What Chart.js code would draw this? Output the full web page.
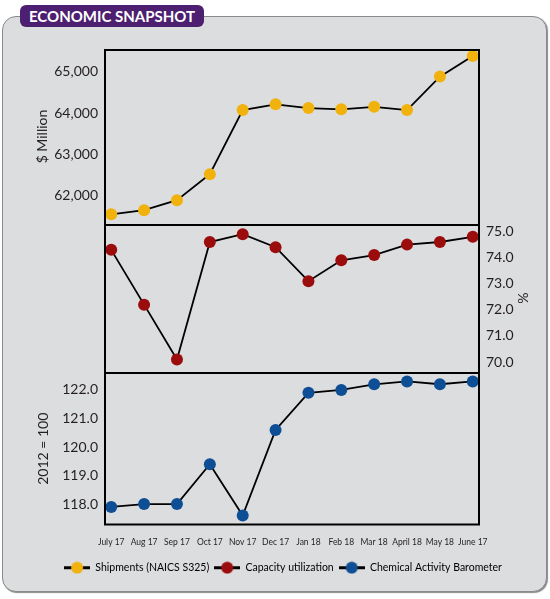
<!DOCTYPE html>
<html lang="en">
<head>
<meta charset="UTF-8">
<title>Economic Snapshot</title>
<script src="https://cdn.jsdelivr.net/npm/chart.js"></script>
<style>
    body { margin: 0; background: #fff; }
    .wrap { position: relative; width: 550px; height: 599px; overflow: hidden; }
    .panel {
        position: absolute; left: 2px; top: 16px; width: 543px; height: 574px;
        background: #dcdddf; border: 1.5px solid #8a8a8a; border-radius: 14px;
        box-shadow: 1px 1px 1px #8a8a8a;
    }
    .tab {
        position: absolute; left: 20px; top: 5px; width: 184px; height: 22px;
        background: #4c1f70; border-radius: 6px; color: #fff;
        font: 700 15px Lato, sans-serif; line-height: 22px; text-align: center;
    }
    canvas { position: absolute; left: 0; }
</style>
</head>
<body>
<div class="wrap">
    <div class="panel"></div>
    <div class="tab">ECONOMIC SNAPSHOT</div>
    <canvas id="shipChart" width="550" height="175" style="top:49px"></canvas>
    <canvas id="capChart" width="550" height="148" style="top:224px"></canvas>
    <canvas id="cabChart" width="550" height="211" style="top:372px"></canvas>
</div>

<script>
// x axis labels (as printed on the original)
const months = ['July 17', 'Aug 17', 'Sep 17', 'Oct 17', 'Nov 17', 'Dec 17',
                'Jan 18', 'Feb 18', 'Mar 18', 'April 18', 'May 18', 'June 17'];

// series values
const shipments = [61550, 61650, 61890, 62520, 64070, 64210, 64120, 64090, 64150, 64070, 64880, 65380];
const capacity  = [74.3, 72.2, 70.1, 74.6, 74.9, 74.4, 73.1, 73.9, 74.1, 74.5, 74.6, 74.8];
const barometer = [117.9, 118.0, 118.0, 119.4, 117.6, 120.6, 121.9, 122.0, 122.2, 122.3, 122.2, 122.3];

// tick values and axis ranges per panel
const shipTicks = [62000, 63000, 64000, 65000];
const capTicks  = [70, 71, 72, 73, 74, 75];
const cabTicks  = [118, 119, 120, 121, 122];
const shipRange = [61315, 65548];
const capRange  = [69.62, 75.29];
const cabRange  = [117.25, 122.63];

const seriesNames  = ['Shipments (NAICS S325)', 'Capacity utilization', 'Chemical Activity Barometer'];
const seriesColors = ['#f1b20d', '#9b0d0d', '#0d4e94'];

const textColor = '#231f20';

// black frame round each plot area; only the bottom panel closes it below
const framePlugin = {
    id: 'frame',
    afterDraw(chart, args, opts) {
        const a = chart.chartArea;
        const c = chart.ctx;
        c.save();
        c.strokeStyle = '#000';
        c.lineWidth = 2;
        c.beginPath();
        c.moveTo(a.left + 1, a.bottom);
        c.lineTo(a.left + 1, a.top + 1);
        c.lineTo(a.right - 1, a.top + 1);
        c.lineTo(a.right - 1, a.bottom);
        if (opts.closeBottom) {
            c.moveTo(a.left, a.bottom - 1);
            c.lineTo(a.right, a.bottom - 1);
        }
        c.stroke();
        c.restore();
    }
};

function xScale(show) {
    const s = {
        type: 'linear',
        min: -0.22,
        max: 11.22,
        display: show,
        grid: { display: false, drawTicks: false },
        border: { display: false },
        afterBuildTicks: sc => { sc.ticks = months.map((m, i) => ({ value: i })); },
        ticks: {
            autoSkip: false, maxRotation: 0, padding: 12, color: textColor,
            font: { family: 'Lato', size: 8.5 },
            callback: v => months[v]
        }
    };
    if (show) {
        s.afterFit = sc => { sc.height = 32; sc.paddingLeft = 0; sc.paddingRight = 0; };
    }
    return s;
}

function yScale(pos, range, ticks, title, fmt, width, titlePad) {
    return {
        position: pos,
        min: range[0],
        max: range[1],
        grid: { display: false, drawTicks: false },
        border: { display: false },
        afterBuildTicks: sc => { sc.ticks = ticks.map(v => ({ value: v })); },
        ticks: { padding: 6, color: textColor, font: { family: 'Lato', size: 14 }, callback: fmt },
        title: {
            display: true, text: title, color: textColor,
            font: { family: 'Lato', size: 14 },
            padding: { top: titlePad, bottom: 0 }
        },
        afterFit: sc => { sc.width = width; sc.paddingTop = 0; sc.paddingBottom = 0; }
    };
}

function lineSet(values, color) {
    return {
        data: values.map((v, i) => ({ x: i, y: v })),
        borderColor: '#000',
        borderWidth: 1.8,
        tension: 0,
        clip: false,
        pointRadius: 6,
        pointHoverRadius: 6,
        pointBackgroundColor: color,
        pointBorderColor: color,
        pointBorderWidth: 0
    };
}

// legend symbol: short black line with a coloured dot
function legendSymbol(color) {
    const cv = document.createElement('canvas');
    cv.width = 26;
    cv.height = 13;
    const c = cv.getContext('2d');
    c.strokeStyle = '#000';
    c.lineWidth = 3;
    c.beginPath();
    c.moveTo(0, 6.5);
    c.lineTo(26, 6.5);
    c.stroke();
    c.fillStyle = color;
    c.beginPath();
    c.arc(13, 6.5, 6, 0, Math.PI * 2);
    c.fill();
    return cv;
}

// Shipments
new Chart(document.getElementById('shipChart'), {
    type: 'line',
    data: { datasets: [lineSet(shipments, seriesColors[0])] },
    options: {
        responsive: false,
        animation: false,
        devicePixelRatio: 1,
        layout: { autoPadding: false, padding: { left: 0, right: 70, top: 0, bottom: 0 } },
        plugins: { legend: { display: false }, tooltip: { enabled: false }, frame: { closeBottom: false } },
        scales: {
            x: xScale(false),
            y: yScale('left', shipRange, shipTicks, '$ Million', v => v.toLocaleString('en-US'), 104, 33.6)
        }
    },
    plugins: [framePlugin]
});

// Capacity utilization
new Chart(document.getElementById('capChart'), {
    type: 'line',
    data: { datasets: [lineSet(capacity, seriesColors[1])] },
    options: {
        responsive: false,
        animation: false,
        devicePixelRatio: 1,
        layout: { autoPadding: false, padding: { left: 104, right: 0, top: 0, bottom: 0 } },
        plugins: { legend: { display: false }, tooltip: { enabled: false }, frame: { closeBottom: false } },
        scales: {
            x: xScale(false),
            y: yScale('right', capRange, capTicks, '%', v => v.toFixed(1), 70, 18.6)
        }
    },
    plugins: [framePlugin]
});

// Chemical Activity Barometer + month labels + legend
new Chart(document.getElementById('cabChart'), {
    type: 'line',
    data: { datasets: [lineSet(barometer, seriesColors[2])] },
    options: {
        responsive: false,
        animation: false,
        devicePixelRatio: 1,
        layout: { autoPadding: false, padding: { left: 16, right: 0, top: 0, bottom: 0 } },
        plugins: {
            tooltip: { enabled: false },
            frame: { closeBottom: true },
            legend: {
                display: true,
                position: 'bottom',
                labels: {
                    usePointStyle: true,
                    pointStyleWidth: 26,
                    padding: 5,
                    color: textColor,
                    font: { family: 'Lato', size: 10.5 },
                    generateLabels: () => seriesNames.map((n, i) => ({
                        text: n,
                        pointStyle: legendSymbol(seriesColors[i]),
                        fillStyle: seriesColors[i],
                        strokeStyle: '#000',
                        lineWidth: 0,
                        hidden: false,
                        datasetIndex: 0
                    }))
                }
            }
        },
        scales: {
            x: xScale(true),
            y: yScale('left', cabRange, cabTicks, '2012 = 100', v => v.toFixed(1), 88, 18.6),
            yPad: {
                position: 'right',
                display: true,
                grid: { display: false, drawTicks: false },
                border: { display: false },
                ticks: { display: false },
                afterFit: sc => { sc.width = 70; sc.paddingTop = 0; sc.paddingBottom = 0; }
            }
        }
    },
    plugins: [framePlugin]
});
</script>
</body>
</html>
